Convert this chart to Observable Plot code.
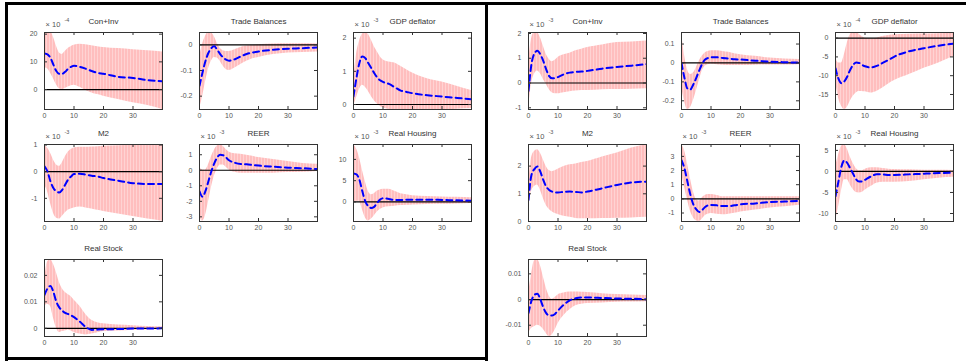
<!DOCTYPE html>
<html><head><meta charset="utf-8">
<script src="https://cdn.jsdelivr.net/npm/d3@7"></script>
<script src="https://cdn.jsdelivr.net/npm/@observablehq/plot@0.6"></script>
<style>
html,body{margin:0;padding:0;background:#fff;}
#root{position:relative;width:966px;height:361px;overflow:hidden;background:#fff;}
.sp{position:absolute;}
.bar{position:absolute;background:#000;}
</style></head><body><div id="root"></div>
<script>
// horizon periods at which values were read
const X = [0,1,2,3,4,5,6,7,8,9,10,12,14,16,18,20,25,30,35,40];
const XT = [0,10,20,30];

// ---- left figure ----
const L_conInv_med = [13,12.7,11.5,9,6.7,5.7,5.7,6.4,7.5,8.2,8.6,8.2,7.5,6.7,6,5.7,4.6,4.2,3.4,3.0];
const L_conInv_hi  = [19.5,21,21,19,15.8,13.3,12.7,13.7,14.8,15.5,16,16.4,16.2,15.8,15.5,15.2,14.8,14.4,14,13.6];
const L_conInv_lo  = [7.9,7.5,6,4,1.8,0.3,0,0.4,0.9,1.4,1.6,0.8,-0.3,-1.2,-1.8,-2.4,-3.6,-4.8,-5.8,-7.2];

const L_trade_med = [-0.16,-0.109,-0.064,-0.032,-0.013,-0.006,-0.019,-0.036,-0.049,-0.058,-0.062,-0.056,-0.045,-0.036,-0.03,-0.026,-0.019,-0.015,-0.013,-0.01];
const L_trade_hi  = [-0.05,0,0.032,0.049,0.047,0.032,0.006,-0.013,-0.023,-0.026,-0.026,-0.019,-0.01,-0.005,-0.003,0,0.003,0.004,0.004,0.003];
const L_trade_lo  = [-0.25,-0.205,-0.147,-0.096,-0.064,-0.049,-0.051,-0.064,-0.083,-0.096,-0.1,-0.09,-0.077,-0.064,-0.054,-0.049,-0.038,-0.032,-0.03,-0.028];

const L_gdp_med = [0.25,0.8,1.25,1.45,1.4,1.25,1.1,0.95,0.82,0.73,0.68,0.62,0.52,0.42,0.38,0.34,0.28,0.24,0.2,0.16];
const L_gdp_hi  = [0.7,1.5,1.9,2.12,2.17,2.12,1.95,1.75,1.6,1.45,1.35,1.28,1.25,1.15,1.05,0.95,0.78,0.68,0.55,0.42];
const L_gdp_lo  = [-0.05,0.2,0.45,0.58,0.52,0.4,0.25,0.12,0.02,-0.05,-0.1,-0.15,-0.17,-0.18,-0.18,-0.18,-0.17,-0.16,-0.14,-0.12];

const L_m2_med = [0.2,0.01,-0.36,-0.61,-0.74,-0.78,-0.68,-0.49,-0.3,-0.18,-0.09,-0.08,-0.11,-0.15,-0.18,-0.24,-0.34,-0.43,-0.46,-0.46];
const L_m2_hi  = [0.98,0.89,0.7,0.45,0.26,0.2,0.33,0.55,0.73,0.83,0.89,0.92,0.92,0.93,0.94,0.95,0.97,1.0,1.01,1.02];
const L_m2_lo  = [-0.5,-0.74,-1.18,-1.55,-1.74,-1.78,-1.68,-1.55,-1.45,-1.4,-1.36,-1.33,-1.36,-1.4,-1.45,-1.49,-1.59,-1.68,-1.78,-1.86];

const L_reer_med = [-1.35,-1.7,-1.35,-0.72,-0.08,0.44,0.82,1.0,0.97,0.82,0.65,0.48,0.4,0.38,0.34,0.3,0.23,0.17,0.13,0.08];
const L_reer_hi  = [0.23,0.02,0.02,0.34,0.86,1.28,1.56,1.66,1.54,1.33,1.18,1.07,1.03,0.97,0.9,0.82,0.7,0.57,0.44,0.38];
const L_reer_lo  = [-2.93,-3.28,-2.93,-2.08,-1.14,-0.4,0.06,0.34,0.34,0.19,0.02,-0.13,-0.19,-0.19,-0.19,-0.19,-0.19,-0.15,-0.13,-0.08];

const L_house_med = [6.7,6.5,5.2,2.5,0.15,-1.0,-1.4,-1.15,-0.23,0.54,0.85,0.7,0.46,0.46,0.54,0.54,0.54,0.46,0.38,0.3];
const L_house_hi  = [13.5,12.5,10.5,7.5,4.8,2.5,1.7,1.9,2.5,2.8,3.0,3.0,2.5,1.9,1.7,1.46,1.3,1.15,1.08,1.0];
const L_house_lo  = [-0.6,0.15,0.15,-1.77,-3.7,-4.46,-4.1,-3.3,-2.4,-1.77,-1.4,-1.15,-1.0,-0.85,-0.77,-0.7,-0.6,-0.54,-0.46,-0.38];

const L_stock_med = [0.0126,0.015,0.016,0.0138,0.0101,0.0079,0.0067,0.0058,0.0054,0.0049,0.0042,0.0025,0.0005,-0.0006,-0.0005,-0.0004,-0.0003,-0.0001,-0.0001,0];
const L_stock_hi  = [0.0175,0.025,0.026,0.0243,0.0212,0.0175,0.015,0.0136,0.0128,0.012,0.0107,0.0083,0.0052,0.003,0.0021,0.0017,0.0012,0.001,0.0007,0.0006];
const L_stock_lo  = [0.0083,0.0091,0.0083,0.004,0.0002,-0.0016,-0.0012,-0.001,-0.0006,-0.001,-0.0016,-0.0022,-0.0025,-0.0022,-0.0017,-0.0012,-0.001,-0.0007,-0.0006,-0.0005];

// ---- right figure ----
const R_conInv_med = [-0.32,0.76,1.19,1.3,1.16,0.89,0.55,0.28,0.19,0.19,0.24,0.35,0.42,0.45,0.46,0.49,0.58,0.65,0.7,0.76];
const R_conInv_hi  = [0.76,1.77,2.04,2.04,1.84,1.5,1.16,0.96,0.86,0.92,1.03,1.14,1.2,1.3,1.36,1.43,1.54,1.64,1.66,1.7];
const R_conInv_lo  = [-1.07,-0.05,0.35,0.49,0.38,0.15,-0.05,-0.26,-0.39,-0.43,-0.43,-0.39,-0.35,-0.32,-0.3,-0.3,-0.27,-0.26,-0.25,-0.23];

const R_trade_med = [0,-0.079,-0.135,-0.14,-0.114,-0.079,-0.04,-0.005,0.018,0.026,0.03,0.03,0.026,0.023,0.019,0.018,0.012,0.007,0.004,0.002];
const R_trade_hi  = [0.161,0.044,-0.035,-0.061,-0.053,-0.026,0.009,0.035,0.053,0.061,0.065,0.065,0.061,0.056,0.049,0.044,0.035,0.026,0.021,0.018];
const R_trade_lo  = [-0.13,-0.2,-0.246,-0.237,-0.2,-0.149,-0.096,-0.044,-0.018,-0.009,-0.005,-0.009,-0.012,-0.014,-0.014,-0.014,-0.012,-0.011,-0.011,-0.009];

const R_gdp_med = [-8,-10.8,-12,-11.5,-10.2,-8.4,-7.1,-6.5,-6.6,-7.1,-7.5,-7.8,-7.4,-6.6,-5.8,-4.9,-3.5,-2.7,-2.0,-1.5];
const R_gdp_hi  = [-4.9,-6.6,-6.6,-4.4,-1.3,0.9,1.5,1.5,1.06,0.44,0,-0.2,0,0.44,0.7,0.9,1.06,1.1,1.2,1.3];
const R_gdp_lo  = [-11.5,-15.9,-18.1,-19,-18.4,-16.8,-15.5,-14.6,-14.2,-14.2,-14.3,-14.6,-14.2,-13.3,-12.2,-11.3,-9.7,-8,-6.6,-4.9];

const R_m2_med = [0.78,1.68,1.89,1.99,1.8,1.5,1.26,1.14,1.08,1.05,1.05,1.07,1.08,1.07,1.05,1.08,1.2,1.32,1.41,1.44];
const R_m2_hi  = [1.26,2.29,2.53,2.59,2.47,2.23,1.99,1.84,1.8,1.83,1.89,1.99,2.05,2.08,2.13,2.17,2.33,2.47,2.65,2.78];
const R_m2_lo  = [0.41,1.08,1.26,1.32,1.14,0.84,0.59,0.44,0.35,0.29,0.25,0.19,0.15,0.11,0.1,0.1,0.11,0.12,0.13,0.15];

const R_reer_med = [2.73,2.15,1.23,0.3,-0.39,-0.74,-0.93,-0.79,-0.58,-0.46,-0.44,-0.46,-0.51,-0.51,-0.46,-0.39,-0.32,-0.23,-0.19,-0.14];
const R_reer_hi  = [3.84,3.43,2.5,1.46,0.53,-0.05,-0.16,0.07,0.23,0.3,0.3,0.23,0.14,0.14,0.14,0.14,0.14,0.14,0.14,0.14];
const R_reer_lo  = [1.8,0.88,-0.05,-0.86,-1.32,-1.55,-1.6,-1.44,-1.2,-1.09,-1.04,-1.09,-1.13,-1.09,-1.02,-0.93,-0.79,-0.65,-0.56,-0.46];

const R_house_med = [-5.9,-2.4,1.1,2.6,2.0,0.7,-0.6,-1.9,-2.4,-2.4,-2.0,-1.2,-0.7,-0.7,-0.85,-0.85,-0.7,-0.54,-0.39,-0.31];
const R_house_hi  = [1.1,3.8,5.9,6.36,5.35,3.4,1.86,0.7,0.16,0.16,0.47,0.85,0.85,0.7,0.54,0.47,0.39,0.31,0.31,0.23];
const R_house_lo  = [-11.9,-8.6,-4.7,-2.0,-2.0,-3.2,-4.3,-5.0,-5.1,-5.0,-4.5,-3.6,-2.8,-2.6,-2.6,-2.56,-2.4,-2.0,-1.6,-1.4];

const R_stock_med = [-0.0053,-0.0005,0.0018,0.0023,0.0001,-0.003,-0.0053,-0.0062,-0.0062,-0.0056,-0.0043,-0.002,-0.0003,0.0005,0.0008,0.0008,0.0006,0.0004,0.0003,0.0001];
const R_stock_hi  = [0.002,0.0096,0.015,0.0156,0.0134,0.009,0.0046,0.0014,0.0001,0.0008,0.0018,0.0025,0.0029,0.0029,0.0028,0.0027,0.0023,0.002,0.0018,0.0016];
const R_stock_lo  = [-0.0132,-0.0113,-0.0106,-0.01,-0.0104,-0.0116,-0.0132,-0.0144,-0.0138,-0.0119,-0.0094,-0.0062,-0.004,-0.0024,-0.0018,-0.0015,-0.0013,-0.0011,-0.001,-0.0009];

// titles, exponents, y-axis domains & ticks
const TITLES = ["Con+Inv","Trade Balances","GDP deflator","M2","REER","Real Housing","Real Stock"];
const L_exp = ["-4", null, "-3", "-3", "-3", "-3", null];
const R_exp = ["-3", null, "-4", "-3", "-3", "-3", null];
const L_dom = [[-7.2,20.6],[-0.252,0.048],[-0.15,2.17],[-1.87,1.02],[-3.3,1.66],[-4.6,13.5],[-0.0031,0.026]];
const R_dom = [[-1.07,2.04],[-0.246,0.161],[-19,1.5],[0,2.78],[-1.6,3.84],[-11.9,6.4],[-0.0144,0.0156]];
const L_ticks = [[0,10,20],[-0.2,-0.1,0],[0,1,2],[-1,0,1],[-3,-2,-1,0,1],[0,5,10],[0,0.01,0.02]];
const R_ticks = [[-1,0,1,2],[-0.2,-0.1,0,0.1],[-15,-10,-5,0],[0,1,2],[-1,0,1,2,3],[-10,-5,0,5],[-0.01,0,0.01]];

const L_series = [
  [L_conInv_med,L_conInv_lo,L_conInv_hi],[L_trade_med,L_trade_lo,L_trade_hi],[L_gdp_med,L_gdp_lo,L_gdp_hi],
  [L_m2_med,L_m2_lo,L_m2_hi],[L_reer_med,L_reer_lo,L_reer_hi],[L_house_med,L_house_lo,L_house_hi],[L_stock_med,L_stock_lo,L_stock_hi]];
const R_series = [
  [R_conInv_med,R_conInv_lo,R_conInv_hi],[R_trade_med,R_trade_lo,R_trade_hi],[R_gdp_med,R_gdp_lo,R_gdp_hi],
  [R_m2_med,R_m2_lo,R_m2_hi],[R_reer_med,R_reer_lo,R_reer_hi],[R_house_med,R_house_lo,R_house_hi],[R_stock_med,R_stock_lo,R_stock_hi]];

// ---- layout ----
const root = document.getElementById("root");
const BW = 118, BH = 77, ML = 40, MR = 8, MT = 26, MB = 16;
const COLS = [[44,199,353],[528,681,835]];
const ROWS = [32,144,259];
const FONT = "'Liberation Sans', Arial, sans-serif";
const fmt = d => String(+(+d).toPrecision(6));
const NS = "http://www.w3.org/2000/svg";

function stripeDefs(id) {
  return () => {
    const defs = document.createElementNS(NS, "defs");
    const pat = document.createElementNS(NS, "pattern");
    pat.setAttribute("id", id);
    pat.setAttribute("patternUnits", "userSpaceOnUse");
    pat.setAttribute("width", "3");
    pat.setAttribute("height", "10");
    const r1 = document.createElementNS(NS, "rect");
    r1.setAttribute("width", "3"); r1.setAttribute("height", "10"); r1.setAttribute("fill", "#ffbebe");
    const r2 = document.createElementNS(NS, "rect");
    r2.setAttribute("width", "1"); r2.setAttribute("height", "10"); r2.setAttribute("fill", "#ffd3d3");
    pat.appendChild(r1); pat.appendChild(r2);
    defs.appendChild(pat);
    return defs;
  };
}

function makeSub(fig, k) {
  const series = fig === 0 ? L_series[k] : R_series[k];
  const dom = fig === 0 ? L_dom[k] : R_dom[k];
  const ticks = fig === 0 ? L_ticks[k] : R_ticks[k];
  const exp = fig === 0 ? L_exp[k] : R_exp[k];
  const rows = X.map((t, i) => ({t, med: series[0][i], lo: series[1][i], hi: series[2][i]}));
  const pid = `stripe-${fig}-${k}`;
  const marks = [
    stripeDefs(pid),
    Plot.areaY(rows, {x: "t", y1: "lo", y2: "hi", fill: `url(#${pid})`, curve: "monotone-x", clip: true}),
    Plot.ruleY([0], {stroke: "#000", strokeWidth: 1.2}),
    Plot.lineY(rows, {x: "t", y: "med", stroke: "#0000ff", strokeWidth: 2, strokeDasharray: "6,4", curve: "monotone-x", clip: true}),
    Plot.tickX(XT, {x: d => d, insetTop: BH - 3, stroke: "#333"}),
    Plot.tickX(XT, {x: d => d, insetBottom: BH - 3, stroke: "#333"}),
    Plot.tickY(ticks, {y: d => d, insetRight: BW - 3, stroke: "#333"}),
    Plot.tickY(ticks, {y: d => d, insetLeft: BW - 3, stroke: "#333"}),
    Plot.frame({stroke: "#333"}),
    Plot.text([TITLES[k]], {text: d => d, frameAnchor: "top", dy: -11, fontSize: 8, fill: "#333", lineAnchor: "middle"})
  ];
  if (exp) {
    marks.push(Plot.text(["\u00d7 10"], {text: d => d, frameAnchor: "top-left", dx: 1, dy: -8, textAnchor: "start", lineAnchor: "middle", fontSize: 7.5, fill: "#555"}));
    marks.push(Plot.text([exp], {text: d => d, frameAnchor: "top-left", dx: 20, dy: -12, textAnchor: "start", lineAnchor: "middle", fontSize: 5.5, fill: "#555"}));
  }
  const svg = Plot.plot({
    width: BW + ML + MR, height: BH + MT + MB,
    marginLeft: ML, marginRight: MR, marginTop: MT, marginBottom: MB,
    style: {background: "transparent", fontFamily: FONT, fontSize: "7px", color: "#555", overflow: "visible"},
    x: {domain: [0, 40], ticks: XT, tickFormat: fmt, tickSize: 0, tickPadding: 4, label: null},
    y: {domain: dom, ticks: ticks, tickFormat: fmt, tickSize: 0, tickPadding: 7, label: null},
    marks
  });
  const div = document.createElement("div");
  div.className = "sp";
  const col = k % 3, row = Math.floor(k / 3);
  div.style.left = (COLS[fig][col] - ML) + "px";
  div.style.top = (ROWS[row] - MT) + "px";
  div.appendChild(svg);
  root.appendChild(div);
}

for (let fig = 0; fig < 2; fig++) for (let k = 0; k < 7; k++) makeSub(fig, k);

// figure borders
function bar(l, t, w, h) {
  const b = document.createElement("div");
  b.className = "bar";
  Object.assign(b.style, {left: l + "px", top: t + "px", width: w + "px", height: h + "px"});
  root.appendChild(b);
}
bar(5, 2, 961, 3);
bar(5, 2, 3, 359);
bar(485, 2, 3, 359);
bar(5, 357, 483, 3);
</script></body></html>
